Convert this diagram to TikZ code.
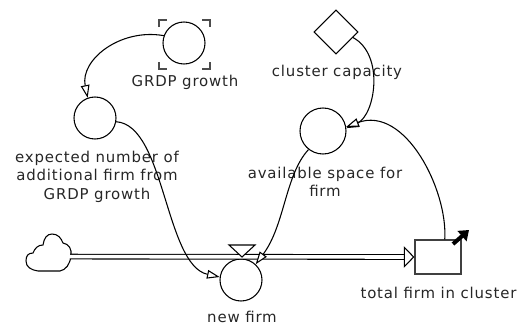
\documentclass[tikz,border=0pt]{standalone}
\usepackage{fontspec}
\setmainfont[LetterSpace=5.5]{DejaVu Sans}
\usetikzlibrary{arrows.meta,shapes.geometric}
\tikzset{
	aux/.style={draw, circle, line width=0.8pt, minimum size=31.5pt, inner sep=0pt},
	constant/.style={draw, diamond, line width=0.8pt, minimum size=33pt, inner sep=0pt},
	level/.style={draw=black!75, rectangle, line width=0.8pt, minimum width=34.5pt, minimum height=25.5pt, inner sep=0pt},
	lbl/.style={align=center, font=\fontsize{11.2}{13.9}\selectfont, text=black!85, inner sep=0pt},
	link/.style={line width=0.8pt, -{Triangle[open, fill=white, length=9.5pt, width=6.5pt]}},
	pipe/.style={line width=0.8pt, double, double distance=2.7pt, -{Triangle[open, fill=white, length=8pt, width=16pt]}},
}

\begin{document}
\begin{tikzpicture}[x=0.75pt, y=-0.75pt]
	%%%%% START %%%%%
	\useasboundingbox (0, 0) rectangle (523, 325);

	\coordinate (pipestart) at (70, 256.6);

	\node[aux] (growth) at (184, 43) {};
	\node[aux] (expected) at (95, 118) {};
	\node[constant] (capacity) at (336, 32) {};
	\node[aux, minimum size=34.5pt] (space) at (323, 131) {};
	\node[aux] (newfirm) at (241, 280) {};
	\node[level] (total) at (438, 257) {};

	\node[lbl] (growthlbl) at (185, 82.5) {GRDP growth};
	\node[lbl] (expectedlbl) at (97, 176.5) {expected number of\\additional firm from\\GRDP growth};
	\node[lbl] (capacitylbl) at (337, 72.5) {cluster capacity};
	\node[lbl] (spacelbl) at (325, 182) {available space for\\firm};
	\node[lbl] (newfirmlbl) at (242, 316.5) {new firm};
	\node[lbl] (totallbl) at (438.5, 292.5) {total firm in cluster};

	% brackets round the ghost
	\draw[line width=0.8pt, color=black!70] (159, 27) -- (159, 20) -- (167, 20);
	\draw[line width=0.8pt, color=black!70] (202, 20) -- (210, 20) -- (210, 27);
	\draw[line width=0.8pt, color=black!70] (159, 62) -- (159, 69) -- (167, 69);
	\draw[line width=0.8pt, color=black!70] (202, 69) -- (210, 69) -- (210, 62);

	% source cloud
	\draw[line width=0.8pt] (71, 256) .. controls (72, 249) and (69, 244) .. (63, 243)
		.. controls (61, 238) and (58, 234) .. (52, 234)
		.. controls (47, 234) and (44, 238) .. (43, 245)
		.. controls (38, 245) and (35, 248) .. (33, 253)
		.. controls (28, 253) and (26, 256) .. (26, 261)
		.. controls (26, 267) and (31, 270) .. (38, 271)
		-- (60, 271) .. controls (66, 270) and (70, 264) .. (71, 256);

	\draw[pipe] (pipestart) -- (total.west);

	% valve
	\draw[line width=0.8pt, fill=white] (229, 245) -- (255, 245) -- (242, 257) -- cycle;

	% outflow arrow on the stock
	\draw[line width=3pt, -{Triangle[length=7pt, width=10pt]}] (453, 244) -- (469, 230);

	\draw[link] (growth.160) .. controls (120, 28) and (80, 60) .. (expected.110);
	\draw[link] (expected.-10) .. controls (165, 125) and (165, 265) .. (newfirm.172);
	\draw[link] (capacity.-18) .. controls (385, 55) and (375, 115) .. (space.7);
	\draw[link] (total.69) .. controls (448, 190) and (405, 105) .. (space.10);
	\draw[link] (space.232) .. controls (285, 175) and (285, 225) .. (newfirm.47);
	%%%%% END %%%%%
\end{tikzpicture}
\end{document}
